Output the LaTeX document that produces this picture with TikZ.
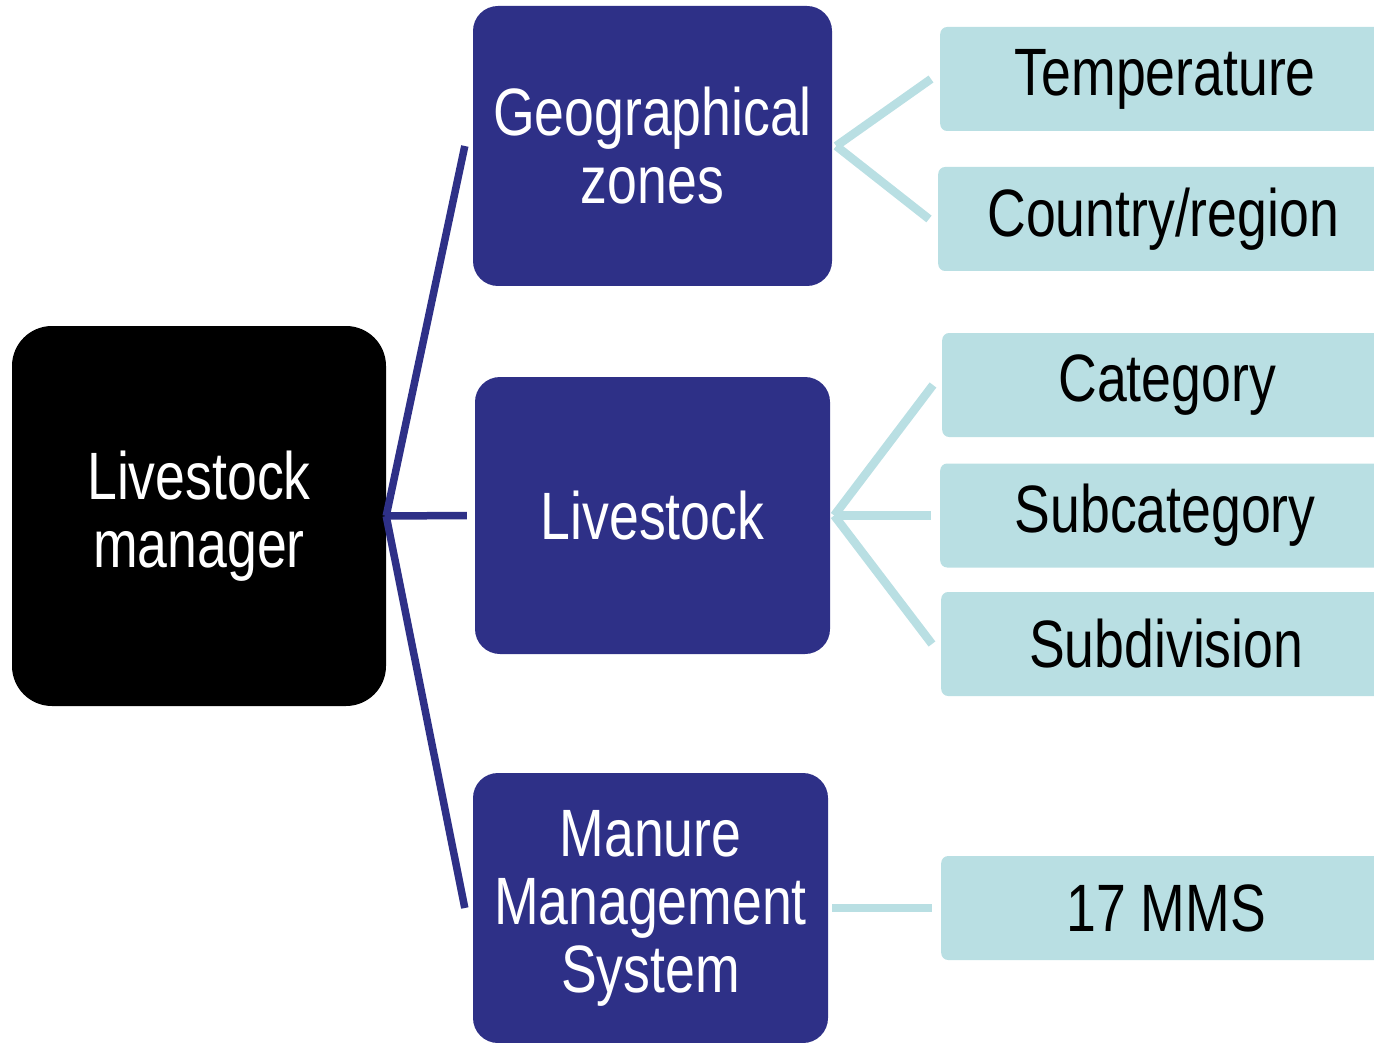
\documentclass[tikz,border=0pt]{standalone}
\usepackage{fontspec}
\setmainfont{Liberation Sans}[FakeStretch=0.8]
\usetikzlibrary{positioning}
\definecolor{navyblock}{RGB}{46,48,135}
\definecolor{paleblock}{RGB}{185,223,227}
\tikzset{
 mainbox/.style={fill=black,text=white,rounded corners=40pt,minimum width=374pt,minimum height=380pt,align=center,inner sep=0pt},
 groupbox/.style={fill=navyblock,text=white,rounded corners=25pt,align=center,inner sep=0pt},
 itembox/.style={fill=paleblock,text=black,rounded corners=7pt,minimum width=450pt,minimum height=104pt,inner sep=0pt,anchor=west},
 navyline/.style={draw=navyblock,line width=7.5pt},
 paleline/.style={draw=paleblock,line width=8.5pt},
}
\begin{document}
\begin{tikzpicture}[x=1pt,y=-1pt,font=\fontsize{67}{68}\selectfont]
\useasboundingbox (0,0) rectangle (1374,1043);
\clip (0,0) rectangle (1374,1043);
\node[mainbox] (mgr) at (199,516) {Livestock\\manager};
\node[groupbox,minimum width=359pt,minimum height=280pt] (geo) at (652.5,146) {Geographical\\zones};
\node[groupbox,minimum width=355pt,minimum height=277pt] (stock) at (652.5,515.5) {Livestock};
\node[groupbox,minimum width=355pt,minimum height=270pt] (mms) at (650.5,908) {Manure\\Management\\System};
\node[itembox] (temp) at (940,79) {Temperature};
\node[itembox] (country) at (938,219) {Country/region};
\node[itembox] (cat) at (942,385) {Category};
\node[itembox] (subcat) at (940,515.5) {Subcategory};
\node[itembox] (subdiv) at (941,644) {Subdivision};
\node[itembox] (mmslist) at (941,908) {17 MMS};
\draw[navyline] (mgr.east) -- ([xshift=-8pt]geo.west);
\draw[navyline] (mgr.east) -- ([xshift=-8pt]stock.west);
\draw[navyline] (mgr.east) -- ([xshift=-8pt]mms.west);
\draw[paleline] ([xshift=4pt]geo.east) -- ([xshift=-9pt]temp.west);
\draw[paleline] ([xshift=4pt]geo.east) -- ([xshift=-9pt]country.west);
\draw[paleline] ([xshift=4pt]stock.east) -- ([xshift=-9pt]cat.west);
\draw[paleline] ([xshift=4pt]stock.east) -- ([xshift=-9pt]subcat.west);
\draw[paleline] ([xshift=4pt]stock.east) -- ([xshift=-9pt]subdiv.west);
\draw[paleline] ([xshift=4pt]mms.east) -- ([xshift=-9pt]mmslist.west);
\end{tikzpicture}
\end{document}
